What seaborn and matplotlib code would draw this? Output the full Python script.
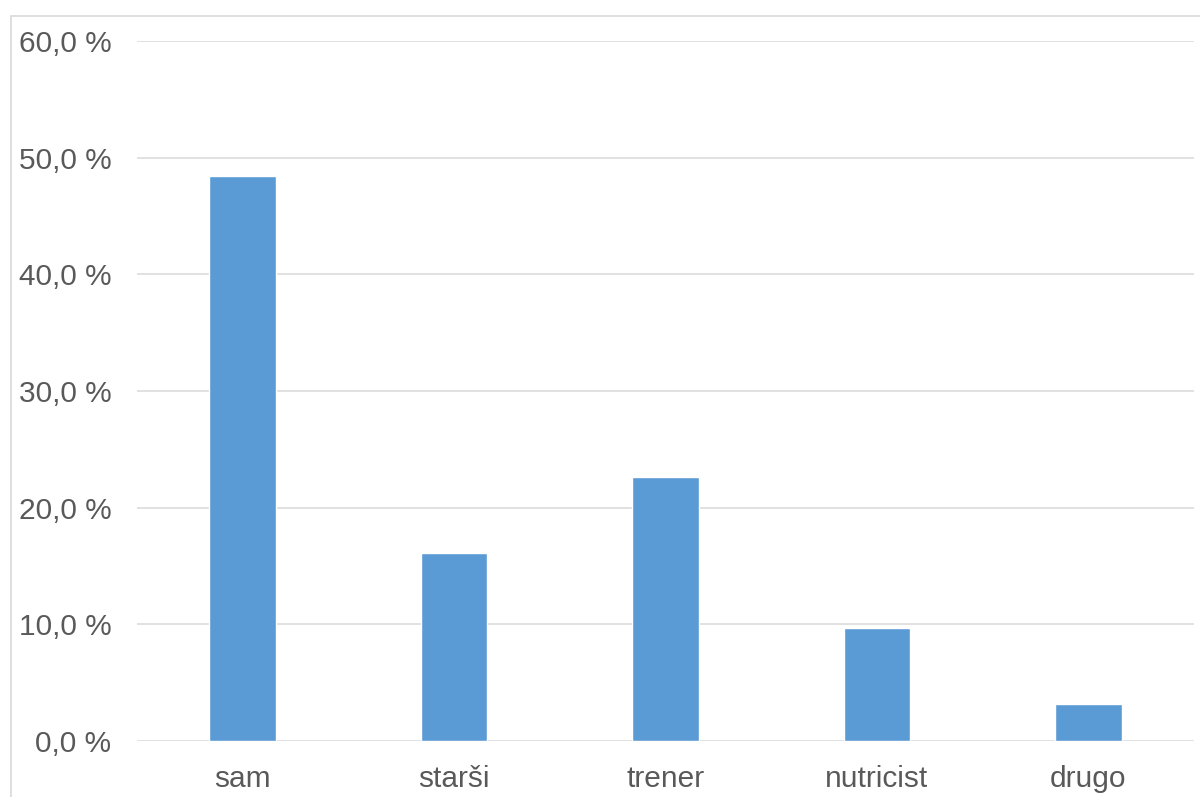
import matplotlib
matplotlib.use("Agg")
import matplotlib.pyplot as plt
from matplotlib.patches import Rectangle
from matplotlib.ticker import FuncFormatter
import seaborn as sns
import pandas as pd

categories = ["sam", "starši", "trener", "nutricist", "drugo"]
shares = [48.4, 16.1, 22.6, 9.7, 3.2]
y_ticks = [0, 10, 20, 30, 40, 50, 60]

sns.set_theme(style="white")
plt.rcParams["font.family"] = ["Liberation Sans", "DejaVu Sans"]

W, H = 1200, 797
fig = plt.figure(figsize=(W / 100, H / 100), dpi=100)
fig.patch.set_facecolor("white")

# light chart-area frame
fig.patches.append(Rectangle((11 / W, -0.1), 1.2, (H - 16) / H + 0.1,
                             transform=fig.transFigure, fill=False,
                             edgecolor="#d9d9d9", linewidth=1.2, zorder=0))

ax = fig.add_axes([137 / W, 56 / H, (1194 - 137) / W, (741 - 41) / H])

df = pd.DataFrame({"kategorija": categories, "delez": shares})
sns.barplot(data=df, x="kategorija", y="delez", color="#5b9bd5",
            saturation=1, width=0.315, ax=ax, zorder=3)

ax.set_ylim(0, 60)
ax.set_xlim(-0.5, len(categories) - 0.5)
ax.set_yticks(y_ticks)
ax.yaxis.set_major_formatter(FuncFormatter(lambda v, _: f"{v:.1f} %".replace(".", ",")))
ax.grid(axis="y", color="#d9d9d9", linewidth=1.1, zorder=0)
ax.set_axisbelow(True)
for s in ax.spines.values():
    s.set_visible(False)
ax.set_xlabel("")
ax.set_ylabel("")
ax.tick_params(axis="y", length=0, pad=18.5, labelsize=21.5, labelcolor="#595959")
ax.tick_params(axis="x", length=0, pad=17, labelsize=21.5, labelcolor="#595959")

fig.savefig("out.png", dpi=100, facecolor="white")
